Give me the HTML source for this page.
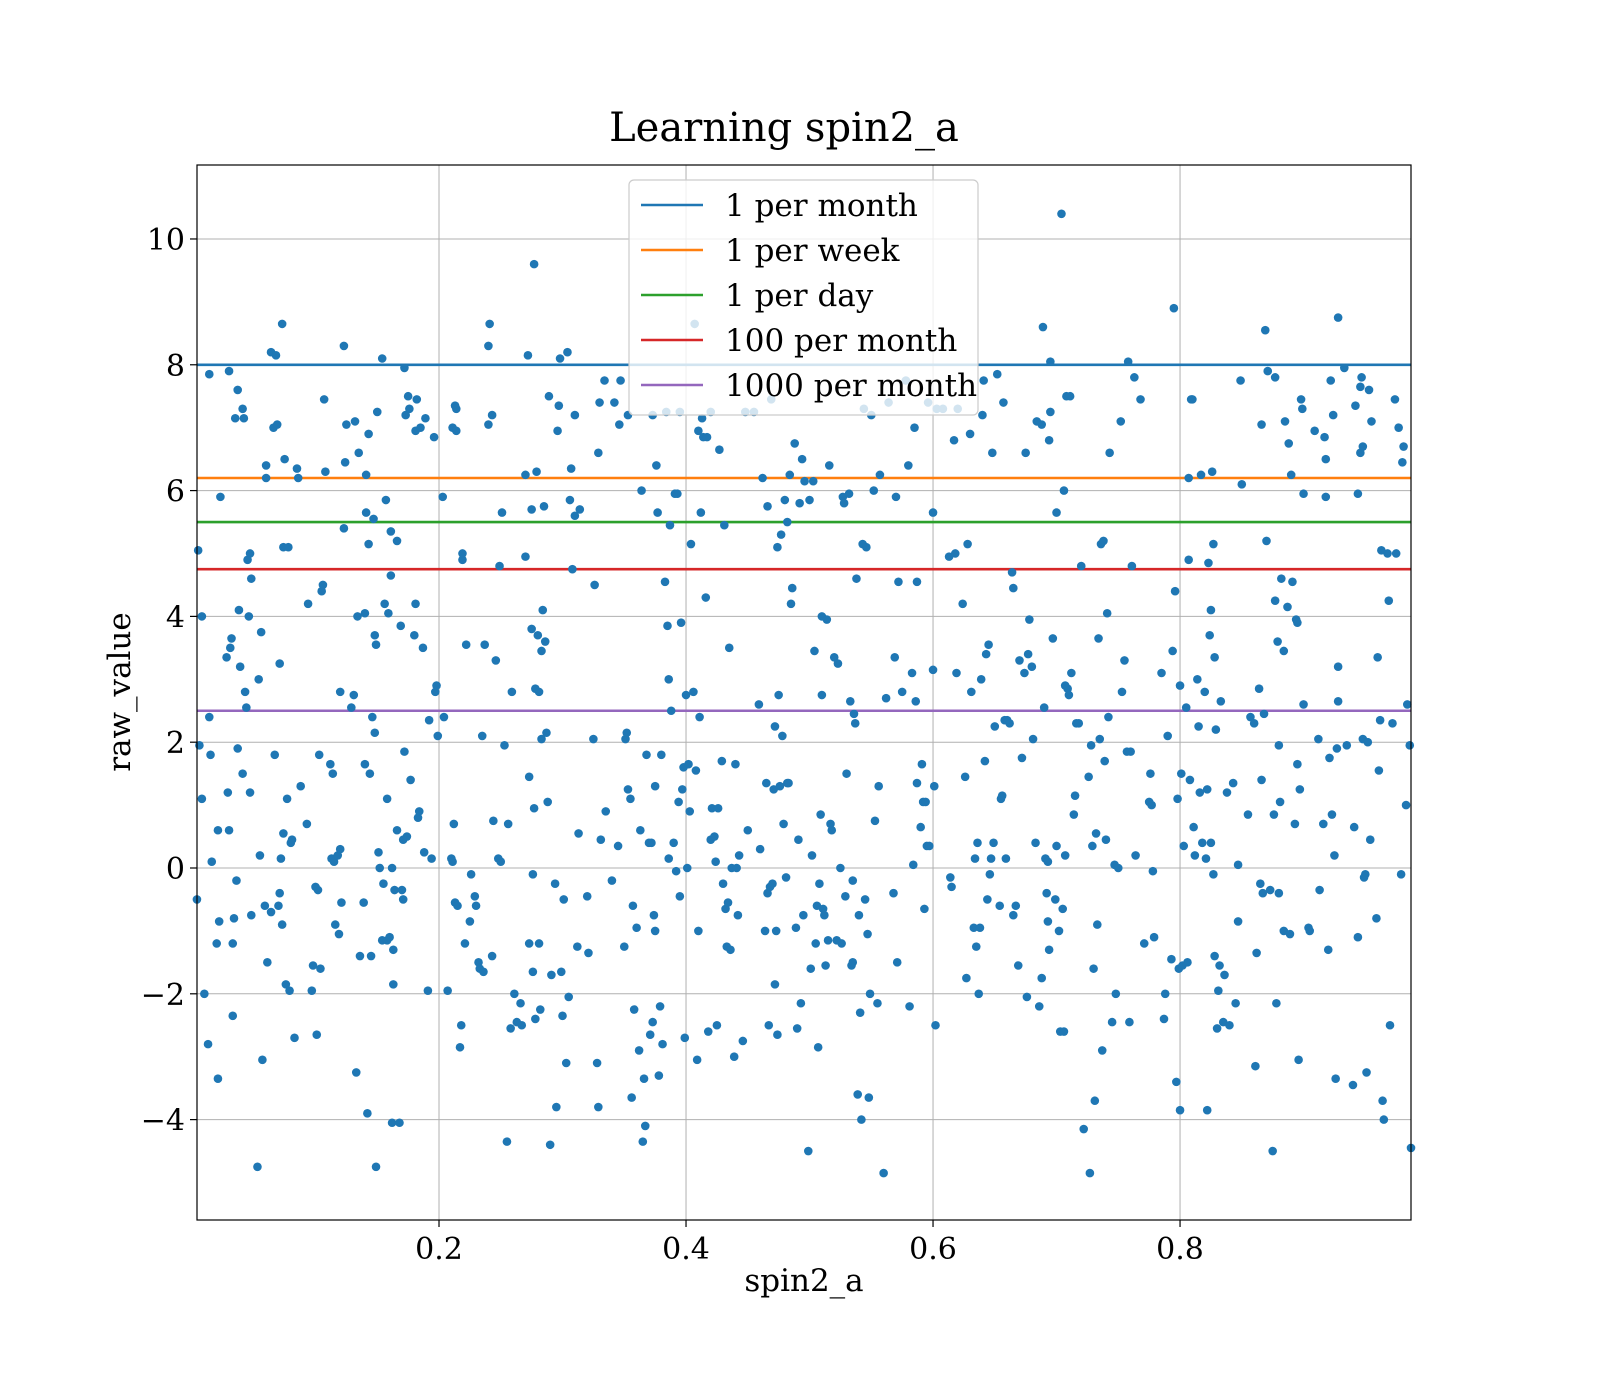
<!DOCTYPE html>
<html><head><meta charset="utf-8"><style>
html,body{margin:0;padding:0;background:#fff;}
svg{display:block;font-family:"DejaVu Serif","Liberation Serif",serif;}
</style></head><body>
<svg id="chart" width="1600" height="1400" viewBox="0 0 1600 1400" xmlns="http://www.w3.org/2000/svg">
<rect width="1600" height="1400" fill="#fff"/>
<text x="784" y="141" font-size="40" text-anchor="middle" fill="#000">Learning spin2_a</text>
<g id="grid"></g>
<g id="hlines"></g>
<g id="points"></g>
<rect x="197" y="165" width="1214" height="1055" fill="none" stroke="#000" stroke-width="1.2"/>
<g id="axes"></g>
<text x="804" y="1291" font-size="31" text-anchor="middle">spin2_a</text>
<text transform="translate(130,692) rotate(-90)" font-size="31" text-anchor="middle">raw_value</text>
<g id="legend"></g>
</svg>
<script>
const xTicks = [0.2, 0.4, 0.6, 0.8];
const yTicks = [-4, -2, 0, 2, 4, 6, 8, 10];
const seriesNames = ["1 per month","1 per week","1 per day","100 per month","1000 per month"];
const thresholdValues = [8, 6.2, 5.5, 4.75, 2.5];
const seriesColors = ["#1f77b4","#ff7f0e","#2ca02c","#d62728","#9467bd"];
const pointsX = [0.004,0.005,0.006,0.008,0.008,0.01,0.013,0.014,0.015,0.014,0.016,0.02,0.021,0.021,0.022,0.023,0.028,0.029,0.03,0.03,0.031,0.032,0.033,0.033,0.034,0.035,0.036,0.037,0.038,0.037,0.039,0.041,0.042,0.041,0.043,0.044,0.046,0.045,0.047,0.047,0.048,0.048,0.053,0.054,0.055,0.056,0.057,0.059,0.06,0.06,0.061,0.064,0.064,0.066,0.067,0.068,0.069,0.07,0.071,0.071,0.072,0.073,0.073,0.074,0.074,0.075,0.076,0.077,0.078,0.079,0.08,0.081,0.083,0.085,0.086,0.088,
0.093,0.094,0.097,0.098,0.1,0.101,0.102,0.103,0.104,0.105,0.106,0.107,0.108,0.112,0.113,0.114,0.115,0.116,0.118,0.119,0.12,0.12,0.121,0.123,0.123,0.124,0.125,0.129,0.131,0.132,0.133,0.134,0.135,0.136,0.139,0.14,0.14,0.141,0.141,0.142,0.143,0.143,0.144,0.145,0.146,0.147,0.148,0.148,0.149,0.149,0.15,0.151,0.152,0.154,0.154,0.155,0.156,0.157,0.158,0.158,0.159,0.16,0.161,0.161,0.162,0.162,0.163,0.163,0.164,0.166,0.166,0.168,0.169,0.17,0.171,0.171,0.172,0.172,0.173,0.174,0.175,0.176,0.177,0.18,0.181,0.181,0.182,0.183,0.184,0.185,0.187,0.188,0.189,0.191,0.192,0.194,0.196,0.197,0.198,0.199,0.203,0.204,0.207,
0.21,0.211,0.211,0.212,0.213,0.213,0.214,0.214,0.215,0.217,0.218,0.219,0.219,0.221,0.222,0.225,0.226,0.229,0.23,0.232,0.233,0.235,0.236,0.237,0.24,0.24,0.241,0.243,0.243,0.244,0.246,0.248,0.249,0.25,0.251,0.253,0.255,0.256,0.258,0.259,0.261,0.263,0.266,0.267,0.27,0.27,0.272,0.273,0.273,0.275,0.275,0.276,0.276,0.277,0.277,0.278,0.278,0.279,0.28,0.281,0.281,0.282,0.283,0.283,0.284,0.285,0.286,0.287,0.288,0.289,0.29,0.291,0.294,0.295,0.296,0.297,0.298,0.299,0.3,0.301,0.303,0.304,0.305,0.306,0.307,0.308,0.31,0.31,0.312,0.313,0.314,0.32,0.321,0.325,0.326,0.328,0.329,0.329,0.33,0.331,
0.334,0.335,0.34,0.342,0.345,0.346,0.347,0.35,0.351,0.352,0.353,0.353,0.355,0.356,0.357,0.358,0.36,0.362,0.363,0.364,0.365,0.366,0.367,0.368,0.37,0.371,0.372,0.373,0.373,0.374,0.375,0.375,0.376,0.377,0.378,0.379,0.38,0.381,0.383,0.384,0.385,0.386,0.386,0.387,0.388,0.39,0.391,0.392,0.393,0.394,0.395,0.395,0.396,0.397,0.398,0.399,0.4,0.401,0.402,0.403,0.404,0.406,0.407,0.408,0.409,0.41,0.41,0.411,0.412,0.413,0.414,0.416,0.417,0.418,0.42,0.42,0.421,0.423,0.424,0.425,0.426,0.427,0.429,0.43,0.431,0.432,0.433,0.434,0.435,0.436,0.437,0.439,0.44,0.441,0.442,0.443,0.446,0.448,0.45,
0.455,0.459,0.46,0.462,0.464,0.465,0.466,0.466,0.467,0.468,0.469,0.47,0.471,0.472,0.472,0.473,0.474,0.474,0.475,0.476,0.477,0.478,0.479,0.48,0.481,0.482,0.482,0.483,0.484,0.485,0.486,0.488,0.489,0.49,0.491,0.492,0.493,0.494,0.495,0.496,0.499,0.5,0.501,0.502,0.503,0.504,0.505,0.506,0.507,0.508,0.509,0.51,0.51,0.511,0.512,0.513,0.514,0.515,0.516,0.517,0.518,0.52,0.522,0.523,0.525,0.526,0.527,0.528,0.529,0.53,0.532,0.533,0.534,0.535,0.535,0.536,0.537,0.538,0.539,0.54,0.541,0.542,0.543,0.544,0.545,0.546,0.547,0.548,0.549,0.55,0.552,0.553,0.555,0.556,0.557,0.56,0.562,0.564,0.568,0.569,0.57,0.571,0.572,
0.575,0.578,0.58,0.581,0.583,0.584,0.585,0.586,0.587,0.587,0.59,0.591,0.592,0.593,0.594,0.595,0.596,0.597,0.6,0.6,0.601,0.602,0.603,0.608,0.613,0.614,0.615,0.617,0.618,0.619,0.62,0.624,0.626,0.627,0.628,0.63,0.631,0.633,0.634,0.635,0.636,0.637,0.638,0.639,0.64,0.641,0.642,0.643,0.644,0.645,0.646,0.647,0.648,0.649,0.65,0.652,0.654,0.655,0.656,0.657,0.658,0.659,0.66,0.662,0.664,0.665,0.665,0.667,0.669,0.67,0.672,0.674,0.675,0.676,0.677,0.678,0.68,0.681,0.683,0.684,0.686,0.688,0.688,0.689,0.69,0.691,0.692,0.693,0.693,0.694,0.694,0.695,0.695,
0.697,0.699,0.7,0.7,0.702,0.703,0.704,0.705,0.706,0.706,0.707,0.707,0.708,0.709,0.71,0.711,0.712,0.714,0.715,0.716,0.718,0.72,0.722,0.726,0.727,0.728,0.729,0.73,0.731,0.732,0.733,0.734,0.735,0.736,0.737,0.738,0.739,0.74,0.741,0.742,0.743,0.745,0.747,0.748,0.75,0.752,0.753,0.755,0.757,0.758,0.759,0.76,0.761,0.763,0.764,0.768,0.771,0.775,0.776,0.777,0.778,0.779,0.785,0.787,0.788,0.79,0.793,0.794,0.795,0.796,0.797,0.798,0.799,0.8,0.8,0.801,0.802,0.803,0.805,0.806,0.807,0.807,0.808,0.809,0.81,0.811,0.812,0.814,0.815,0.816,
0.817,0.818,0.82,0.821,0.822,0.822,0.823,0.824,0.825,0.825,0.826,0.827,0.827,0.828,0.828,0.829,0.83,0.831,0.832,0.833,0.835,0.836,0.838,0.84,0.843,0.845,0.847,0.847,0.849,0.85,0.855,0.857,0.86,0.861,0.862,0.864,0.865,0.866,0.866,0.867,0.868,0.869,0.87,0.871,0.873,0.875,0.876,0.877,0.877,0.878,0.879,0.88,0.88,0.881,0.882,0.884,0.884,0.885,0.887,0.888,0.889,0.89,0.891,0.893,0.894,0.895,0.895,0.896,0.897,0.898,0.899,0.9,0.9,0.904,0.905,0.909,0.912,0.913,0.916,0.917,0.918,0.918,0.92,0.921,0.922,0.923,0.924,0.925,0.926,0.927,0.928,0.928,0.928,0.933,0.935,0.94,0.941,0.942,0.944,0.944,0.946,0.946,0.947,0.948,0.948,0.949,0.95,0.951,0.952,0.953,0.954,0.955,0.959,0.96,0.961,0.962,0.963,0.964,0.965,0.968,0.969,0.97,0.972,0.974,0.975,0.977,0.979,0.98,0.981,0.983,0.984,0.986,0.987];
const pointsY = [-0.5,5.05,1.95,1.1,4.0,-2.0,-2.8,2.4,1.8,7.85,0.1,-1.2,0.6,-3.35,-0.85,5.9,3.35,1.2,7.9,0.6,3.5,3.65,-1.2,-2.35,-0.8,7.15,-0.2,1.9,4.1,7.6,3.2,7.3,7.15,1.5,2.8,2.55,4.0,4.9,5.0,1.2,-0.75,4.6,-4.75,3.0,0.2,3.75,-3.05,-0.6,6.4,6.2,-1.5,8.2,-0.7,7.0,1.8,8.15,7.05,-0.6,3.25,-0.4,0.15,8.65,-0.9,5.1,0.55,6.5,-1.85,1.1,5.1,-1.95,0.4,0.45,-2.7,6.35,6.2,1.3,
0.7,4.2,-1.95,-1.55,-0.3,-2.65,-0.35,1.8,-1.6,4.4,4.5,7.45,6.3,1.65,0.15,1.5,0.1,-0.9,0.2,-1.05,2.8,0.3,-0.55,8.3,5.4,6.45,7.05,2.55,2.75,7.1,-3.25,4.0,6.6,-1.4,-0.55,4.05,1.65,6.25,5.65,-3.9,6.9,5.15,1.5,-1.4,2.4,5.55,3.7,2.15,-4.75,3.55,7.25,0.25,0.0,8.1,-1.15,-0.25,4.2,5.85,1.1,-1.15,4.05,-1.1,4.65,5.35,-4.05,0.0,-1.3,-1.85,-0.35,5.2,0.6,-4.05,3.85,-0.35,0.45,-0.5,7.95,1.85,7.2,0.5,7.5,7.3,1.4,3.7,4.2,6.95,7.45,0.8,0.9,7.0,3.5,0.25,7.15,-1.95,2.35,0.15,6.85,2.8,2.9,2.1,5.9,2.4,-1.95,
0.15,0.1,7.0,0.7,-0.55,7.35,7.3,6.95,-0.6,-2.85,-2.5,4.9,5.0,-1.2,3.55,-0.85,-0.1,-0.45,-0.6,-1.5,-1.6,2.1,-1.65,3.55,7.05,8.3,8.65,7.2,-1.4,0.75,3.3,0.15,4.8,0.1,5.65,1.95,-4.35,0.7,-2.55,2.8,-2.0,-2.45,-2.15,-2.5,6.25,4.95,8.15,1.45,-1.2,5.7,3.8,-1.65,-0.1,0.95,9.6,-2.4,2.85,6.3,3.7,-1.2,2.8,-2.25,3.45,2.05,4.1,5.75,3.6,2.15,1.05,7.5,-4.4,-1.7,-0.25,-3.8,6.95,7.35,8.1,-1.65,-2.35,-0.5,-3.1,8.2,-2.05,5.85,6.35,4.75,5.6,7.2,-1.25,0.55,5.7,-0.45,-1.35,2.05,4.5,-3.1,6.6,-3.8,7.4,0.45,
7.75,0.9,-0.2,7.4,0.35,7.05,7.75,-1.25,2.05,2.15,1.25,7.2,1.1,-3.65,-0.6,-2.25,-0.95,-2.9,0.6,6.0,-4.35,-3.35,-4.1,1.8,0.4,-2.65,0.4,7.2,-2.45,-0.75,-1.0,1.3,6.4,5.65,-3.3,-2.2,1.8,-2.8,4.55,7.25,3.85,0.15,3.0,5.45,2.5,0.4,5.95,-0.05,5.95,1.05,7.25,-0.45,3.9,1.25,1.6,-2.7,2.75,0.0,1.65,0.9,5.15,2.8,8.65,1.55,-3.05,6.95,-1.0,2.4,5.65,7.15,6.85,4.3,6.85,-2.6,7.25,0.45,0.95,0.5,0.1,-2.5,0.95,6.65,1.7,-0.25,5.45,-0.65,-1.25,-0.55,3.5,-1.3,0.0,-3.0,1.65,0.0,-0.75,0.2,-2.75,7.25,0.6,
7.25,2.6,0.3,6.2,-1.0,1.35,-0.4,5.75,-2.5,-0.3,7.45,-0.25,1.25,-1.85,2.25,-1.0,-2.65,5.1,2.75,1.3,5.3,2.1,0.7,5.85,-0.15,1.35,5.5,1.35,6.25,4.2,4.45,6.75,-0.95,-2.55,0.45,5.8,-2.15,6.5,-0.75,6.15,-4.5,5.85,-1.6,0.2,6.15,3.45,-1.2,-0.6,-2.85,-0.25,0.85,2.75,4.0,-0.65,-0.75,-1.55,3.95,-1.15,6.4,0.7,0.6,3.35,-1.15,3.25,0.0,-1.2,5.9,5.8,-0.45,1.5,5.95,2.65,-1.55,-1.5,-0.2,2.45,2.3,4.6,-3.6,-0.75,-2.3,-4.0,5.15,7.3,-0.5,5.1,-1.05,-3.65,-2.0,7.2,6.0,0.75,-2.15,1.3,6.25,-4.85,2.7,7.4,-0.4,3.35,5.9,-1.5,4.55,
2.8,7.75,6.4,-2.2,3.1,0.05,7.0,2.65,1.35,4.55,0.65,1.65,1.05,-0.65,1.05,0.35,7.4,0.35,3.15,5.65,1.3,-2.5,7.3,7.3,4.95,-0.15,-0.3,6.8,5.0,3.1,7.3,4.2,1.45,-1.75,5.15,6.9,2.8,-0.95,0.15,-1.25,0.4,-2.0,-0.95,3.0,7.2,7.75,1.7,3.4,-0.5,3.55,-0.1,0.15,6.6,0.4,2.25,7.85,-0.6,1.1,1.15,7.4,2.35,0.15,2.35,2.3,4.7,-0.75,4.45,-0.6,-1.55,3.3,1.75,3.1,6.6,-2.05,3.4,3.95,3.2,2.05,0.4,7.1,-2.2,7.05,-1.75,8.6,2.55,0.15,-0.4,0.1,-0.85,6.8,-1.3,7.25,8.05,
3.65,-0.5,5.65,0.35,-1.0,-2.6,10.4,-0.65,6.0,-2.6,0.2,2.9,7.5,2.85,2.75,7.5,3.1,0.85,1.15,2.3,2.3,4.8,-4.15,1.45,-4.85,1.95,0.35,-1.6,-3.7,0.55,-0.9,3.65,2.05,5.15,-2.9,5.2,1.7,0.45,4.05,2.4,6.6,-2.45,0.05,-2.0,0.0,7.1,2.8,3.3,1.85,8.05,-2.45,1.85,4.8,7.8,0.2,7.45,-1.2,1.05,1.5,1.0,-0.05,-1.1,3.1,-2.4,-2.0,2.1,-1.45,3.45,8.9,4.4,-3.4,1.1,-1.6,-3.85,2.9,1.5,-1.55,0.35,2.55,-1.5,6.2,4.9,1.4,7.45,7.45,0.65,0.2,3.0,2.25,1.2,
6.25,0.4,2.8,0.15,-3.85,1.25,4.85,3.7,4.1,0.4,6.3,-0.1,5.15,-1.4,3.35,2.2,-2.55,-1.95,-1.55,2.65,-2.45,-1.7,1.2,-2.5,1.35,-2.15,-0.85,0.05,7.75,6.1,0.85,2.4,2.3,-3.15,-1.35,2.85,-0.25,7.05,1.4,-0.4,2.45,8.55,5.2,7.9,-0.35,-4.5,0.85,7.8,4.25,-2.15,3.6,-0.4,1.95,1.05,4.6,3.45,-1.0,7.1,4.15,6.75,-1.05,6.25,4.55,0.7,3.95,1.65,3.9,-3.05,1.25,7.45,7.3,2.6,5.95,-0.95,-1.0,6.95,2.05,-0.35,0.7,6.85,5.9,6.5,-1.3,1.75,7.75,0.85,7.2,0.2,-3.35,1.9,8.75,3.2,2.65,7.95,1.95,-3.45,0.65,7.35,5.95,-1.1,6.6,7.65,7.8,6.7,2.05,-0.15,-0.1,-3.25,2.0,7.6,0.45,7.1,-0.8,3.35,1.55,2.35,5.05,-3.7,-4.0,5.0,4.25,-2.5,2.3,7.45,5.0,7.0,-0.1,6.45,6.7,1.0,2.6,1.95,-4.45];

const NS = "http://www.w3.org/2000/svg";
const L = 197, R = 1411, T = 165, B = 1220;
const xMin = 0.00405, xMax = 0.987, yMin = -5.596, yMax = 11.176;
function sx(v){ return L + (v - xMin) / (xMax - xMin) * (R - L); }
function sy(v){ return B - (v - yMin) / (yMax - yMin) * (B - T); }
function mk(tag, attrs, parent){ const e = document.createElementNS(NS, tag); for (const k in attrs) e.setAttribute(k, attrs[k]); parent.appendChild(e); return e; }

const grid = document.getElementById('grid');
const axes = document.getElementById('axes');
xTicks.forEach(t => {
  const g = mk('line', {x1:sx(t), x2:sx(t), y1:T, y2:B, stroke:'#b0b0b0', 'stroke-width':1}, grid);
  
  
  mk('line', {x1:sx(t), x2:sx(t), y1:B, y2:B+7, stroke:'#000', 'stroke-width':1.2}, axes);
  const tx = mk('text', {x:sx(t), y:B+39, 'font-size':30, 'text-anchor':'middle'}, axes);
  tx.textContent = t.toFixed(1);
  
  
});
yTicks.forEach(t => {
  const g = mk('line', {x1:L, x2:R, y1:sy(t), y2:sy(t), stroke:'#b0b0b0', 'stroke-width':1}, grid);
  
  
  mk('line', {x1:L-7, x2:L, y1:sy(t), y2:sy(t), stroke:'#000', 'stroke-width':1.2}, axes);
  const tx = mk('text', {x:L-12, y:sy(t)+11, 'font-size':30, 'text-anchor':'end'}, axes);
  tx.textContent = t < 0 ? '\u2212' + Math.abs(t) : String(t);
  
  
});

const hl = document.getElementById('hlines');
thresholdValues.forEach((v, i) => {
  const l = mk('line', {x1:L, x2:R, y1:sy(v), y2:sy(v), stroke:seriesColors[i], 'stroke-width':2.6}, hl);
  
  
});

const pts = document.getElementById('points');
for (let i = 0; i < pointsX.length; i++) {
  const c = mk('circle', {cx:sx(pointsX[i]), cy:sy(pointsY[i]), r:4.3, fill:'#1f77b4'}, pts);
  
  
}

const lg = document.getElementById('legend');
const box = mk('rect', {x:629, y:180, width:349, height:235, rx:5, fill:'#fff', 'fill-opacity':0.8, stroke:'#cccccc', 'stroke-width':1.2}, lg);


seriesNames.forEach((n, i) => {
  const y = 205 + i * 45;
  const ln = mk('line', {x1:641, x2:703, y1:y, y2:y, stroke:seriesColors[i], 'stroke-width':2.6}, lg);
  
  
  const tx = mk('text', {x:725, y:y+11, 'font-size':31}, lg);
  tx.textContent = n;
  
  
});
</script>
</body></html>
